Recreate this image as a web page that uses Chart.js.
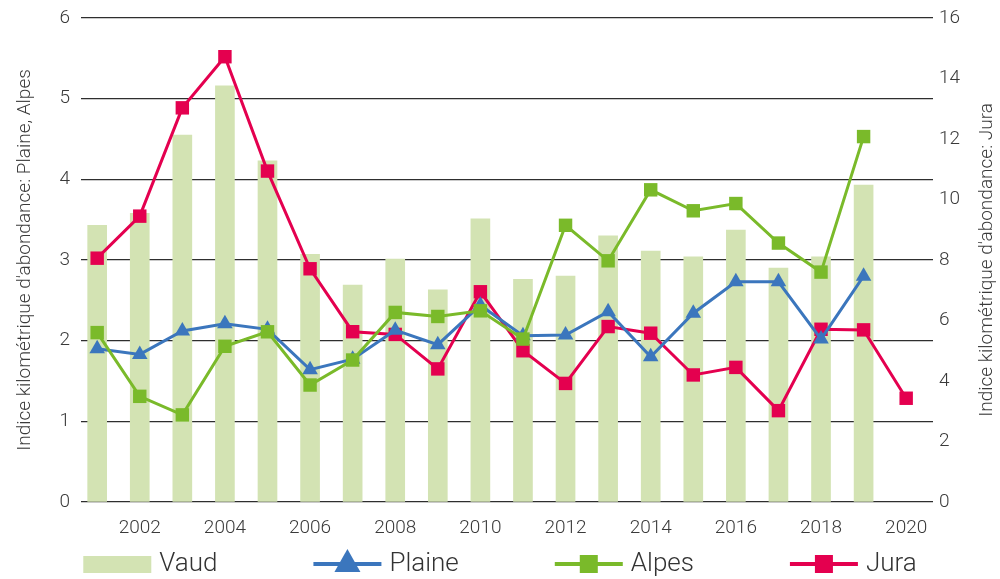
<!DOCTYPE html>
<html lang="fr">
<head>
<meta charset="UTF-8">
<title>Indice kilométrique d'abondance</title>
<script src="https://cdn.jsdelivr.net/npm/chart.js"></script>
<style>
  html, body { margin: 0; padding: 0; background: #fff; }
  #wrap { width: 1000px; height: 579px; }
</style>
</head>
<body>
<div id="wrap"><canvas id="chart"></canvas></div>
<script>
// years and values
const years = [2001, 2002, 2003, 2004, 2005, 2006, 2007, 2008, 2009, 2010,
               2011, 2012, 2013, 2014, 2015, 2016, 2017, 2018, 2019, 2020];
const vaud   = [3.43, 3.58, 4.55, 5.16, 4.23, 3.07, 2.69, 3.01, 2.63, 3.51,
                2.76, 2.80, 3.30, 3.11, 3.04, 3.37, 2.90, 3.04, 3.93, null];
const plaine = [1.90, 1.83, 2.12, 2.21, 2.14, 1.64, 1.77, 2.13, 1.95, 2.44,
                2.06, 2.07, 2.36, 1.80, 2.34, 2.73, 2.73, 2.02, 2.80, null];
const alpes  = [2.10, 1.31, 1.08, 1.93, 2.11, 1.45, 1.76, 2.35, 2.30, 2.37,
                2.02, 3.43, 2.99, 3.87, 3.61, 3.70, 3.21, 2.85, 4.53, null];
const jura   = [8.06, 9.45, 13.03, 14.72, 10.94, 7.71, 5.63, 5.54, 4.40, 6.95,
                5.00, 3.92, 5.80, 5.58, 4.20, 4.45, 3.02, 5.71, 5.69, 3.43];

const xTicks = [2002, 2004, 2006, 2008, 2010, 2012, 2014, 2016, 2018, 2020];
const leftTicks = [0, 1, 2, 3, 4, 5, 6];
const rightTicks = [0, 2, 4, 6, 8, 10, 12, 14, 16];

const FONT = 'Roboto, "Noto Sans", sans-serif';
const TEXT = '#3a3a3a';
const BAR = '#d3e3b3';
const BLUE = '#3b76bd';
const GREEN = '#7aba2a';
const RED = '#e4004f';

const pts = arr => years.map((y, i) => ({ x: y, y: arr[i] }));

// legend drawn by hand: line + marker swatches like the original
const legendPlugin = {
  id: 'handLegend',
  afterDraw(chart) {
    const ctx = chart.ctx;
    const items = [
      { text: 'Vaud', kind: 'bar', color: BAR },
      { text: 'Plaine', kind: 'triangle', color: BLUE },
      { text: 'Alpes', kind: 'rect', color: GREEN },
      { text: 'Jura', kind: 'rect', color: RED }
    ];
    const sw = 68, gapText = 8, gap = 96, cy = 564;
    ctx.save();
    ctx.font = '300 26px ' + FONT;
    ctx.textBaseline = 'middle';
    const widths = items.map(it => sw + gapText + ctx.measureText(it.text).width);
    const total = widths.reduce((a, b) => a + b, 0) + gap * (items.length - 1);
    let x = (chart.width - total) / 2;
    items.forEach((it, i) => {
      ctx.fillStyle = it.color;
      ctx.strokeStyle = it.color;
      if (it.kind === 'bar') {
        ctx.fillRect(x, cy - 8, sw, 17);
      } else {
        ctx.lineWidth = 4;
        ctx.beginPath();
        ctx.moveTo(x, cy);
        ctx.lineTo(x + sw, cy);
        ctx.stroke();
        const mx = x + sw / 2;
        if (it.kind === 'rect') {
          ctx.fillRect(mx - 9, cy - 9, 18, 18);
        } else {
          ctx.beginPath();
          ctx.moveTo(mx, cy - 15);
          ctx.lineTo(mx + 13, cy + 8);
          ctx.lineTo(mx - 13, cy + 8);
          ctx.closePath();
          ctx.fill();
        }
      }
      ctx.fillStyle = '#333';
      ctx.fillText(it.text, x + sw + gapText, cy);
      x += widths[i] + gap;
    });
    // right axis title, reading bottom to top like the left one
    const a = chart.chartArea;
    ctx.translate(987, (a.top + a.bottom) / 2);
    ctx.rotate(-Math.PI / 2);
    ctx.font = '300 19px ' + FONT;
    ctx.fillStyle = TEXT;
    ctx.textAlign = 'center';
    ctx.fillText("Indice kilométrique d'abondance: Jura", 0, 0);
    ctx.restore();
  }
};

new Chart(document.getElementById('chart'), {
  type: 'bar',
  data: {
    datasets: [
      {
        type: 'bar', label: 'Vaud', data: pts(vaud), yAxisID: 'y',
        backgroundColor: BAR, barThickness: 19, order: 4
      },
      {
        type: 'line', label: 'Jura', data: pts(jura), yAxisID: 'y2',
        borderColor: RED, backgroundColor: RED, borderWidth: 3,
        pointStyle: 'rect', pointRadius: 9.5, pointBorderWidth: 0, tension: 0, order: 3
      },
      {
        type: 'line', label: 'Plaine', data: pts(plaine), yAxisID: 'y',
        borderColor: BLUE, backgroundColor: BLUE, borderWidth: 3,
        pointStyle: 'triangle', pointRadius: 9, pointBorderWidth: 0, tension: 0, order: 2
      },
      {
        type: 'line', label: 'Alpes', data: pts(alpes), yAxisID: 'y',
        borderColor: GREEN, backgroundColor: GREEN, borderWidth: 3,
        pointStyle: 'rect', pointRadius: 9.5, pointBorderWidth: 0, tension: 0, order: 1
      }
    ]
  },
  options: {
    responsive: true,
    maintainAspectRatio: false,
    animation: false,
    layout: { padding: { top: 18, bottom: 41, left: 0, right: 0 } },
    plugins: { legend: { display: false }, tooltip: { enabled: false } },
    scales: {
      x: {
        type: 'linear', min: 2000.62, max: 2020.63, offset: false,
        grid: { display: false }, border: { display: false },
        afterBuildTicks: s => { s.ticks = xTicks.map(v => ({ value: v })); },
        afterFit: s => { s.height = 36; },
        ticks: {
          callback: v => String(v), autoSkip: false, maxRotation: 0,
          color: TEXT, font: { family: FONT, size: 19, weight: 300 }, padding: 7
        }
      },
      y: {
        position: 'left', min: 0, max: 6,
        afterBuildTicks: s => { s.ticks = leftTicks.map(v => ({ value: v })); },
        afterFit: s => { s.width = 81; s.paddingTop = 0; s.paddingBottom = 0; },
        grid: { color: '#2e2e2e', lineWidth: 1.2, drawTicks: false },
        border: { display: false },
        ticks: { color: TEXT, font: { family: FONT, size: 19, weight: 300 }, padding: 11 },
        title: {
          display: true, text: "Indice kilométrique d'abondance: Plaine, Alpes",
          color: TEXT, font: { family: FONT, size: 19, weight: 300 },
          padding: { top: 14, bottom: 0 }
        }
      },
      y2: {
        position: 'right', min: 0, max: 16,
        afterBuildTicks: s => { s.ticks = rightTicks.map(v => ({ value: v })); },
        afterFit: s => { s.width = 67; s.paddingTop = 0; s.paddingBottom = 0; },
        grid: { display: false, drawTicks: false },
        border: { display: false },
        ticks: { color: TEXT, font: { family: FONT, size: 19, weight: 300 }, padding: 6 }
      }
    }
  },
  plugins: [legendPlugin]
});
</script>
</body>
</html>
